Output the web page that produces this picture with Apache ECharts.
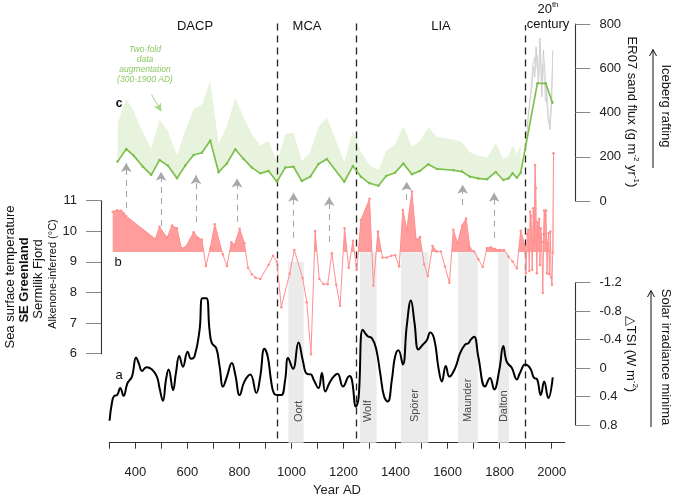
<!DOCTYPE html>
<html><head><meta charset="utf-8">
<script src="https://cdn.jsdelivr.net/npm/echarts@6/dist/echarts.min.js"></script>
<style>html,body{margin:0;padding:0;background:#fff}#c{width:675px;height:496px}</style>
</head><body><div id="c"></div>
<script>
// ---------- DATA ----------
// c: ER07 sand flux (g m-2 yr-1), smoothed record
const gYears = [332,365,394,429,461,493,525,560,592,624,656,688,720,752,784,816,848,880,912,944,976,1008,1040,1072,1104,1136,1203,1236,1267,1300,1334,1364,1398,1430,1463,1494,1526,1559,1623,1655,1686,1718,1751,1785,1814,1834,1850,1866,1881,1945,1977,2003];
const gVals  = [178,235,205,155,118,185,160,103,160,208,218,273,130,170,234,190,151,125,136,87,151,155,90,110,167,190,87,158,110,80,69,113,128,169,121,136,166,145,139,133,110,102,98,131,95,102,125,105,128,532,532,444];
// c: upper envelope of the two-fold data augmentation (300-1900 AD)
const augYears = [332,365,394,429,461,493,525,560,592,624,656,688,720,752,784,816,848,880,912,944,976,1008,1040,1072,1104,1136,1203,1236,1267,1300,1334,1364,1398,1430,1463,1494,1526,1559,1623,1655,1686,1718,1751,1785,1814,1834,1850,1866,1881];
const augUpper = [352,462,405,310,236,368,318,206,318,416,436,542,258,340,466,378,302,250,272,176,302,310,180,220,334,378,176,316,220,162,140,226,256,338,244,272,332,290,278,266,220,206,196,262,190,204,250,210,256];
// c: raw 20th century sand flux (grey)
const rawYears1 = [1902,1910,1917,1924,1930,1935,1940,1945,1949,1955,1958,1962,1968,1973,1978,1983,1987,1994,2000,2004];
const rawVals1  = [270,380,456,520,607,560,697,600,533,737,640,471,682,600,488,420,366,321,456,682];
const rawYears2 = [1905,1913,1920,1927,1933,1938,1944,1950,1956,1961,1966,1971,1976,1981,1986,1991,1997,2003];
const rawVals2  = [330,420,500,610,650,590,660,560,700,520,620,560,450,520,400,350,420,600];
// b: alkenone SST (deg C)
const sYears = [313,330,346,355,364,477,493,522,541,560,577,592,624,641,656,671,688,705,736,752,769,781,801,819,833,848,861,880,912,929,944,961,993,1011,1043,1059,1075,1091,1107,1123,1139,1155,1172,1187,1204,1220,1236,1251,1267,1300,1315,1332,1350,1367,1384,1398,1414,1428,1443,1463,1479,1494,1510,1524,1542,1559,1574,1590,1607,1622,1638,1655,1671,1686,1702,1718,1735,1751,1766,1782,1802,1817,1834,1850,1866,1881,1898,1901,1906,1910,1914,1917,1921,1925,1929,1933,1936,1939,1943,1946,1949,1952,1955,1958,1962,1966,1969,1971,1975,1978,1982,1985,1988,1991,1995,1998,2001,2004,2007];
const sVals  = [10.64,10.69,10.67,10.59,10.50,9.75,10.15,9.79,10.19,10.10,9.45,9.47,9.97,9.79,9.72,8.87,9.45,10.23,9.25,8.87,9.64,9.56,10.08,9.61,8.81,8.60,8.49,8.44,8.90,9.20,9.01,7.52,8.61,9.39,8.47,7.68,5.98,10.01,8.44,8.28,8.27,9.28,8.25,7.57,10.10,8.81,9.69,8.74,10.37,11.06,8.23,9.99,9.14,9.14,9.20,9.22,8.85,10.70,10.05,11.30,9.72,9.81,8.92,8.54,9.52,9.34,9.34,8.85,8.32,10.05,9.61,10.18,10.42,9.45,9.34,9.09,8.83,9.45,9.48,9.42,9.39,9.39,9.17,9.01,8.79,10.02,9.50,8.63,9.90,10.05,8.70,10.64,10.50,8.74,10.75,9.60,12.17,11.41,8.63,10.30,9.88,10.40,8.90,10.10,9.66,7.98,9.90,10.68,10.50,10.68,8.63,9.60,9.94,8.60,9.99,8.50,8.25,9.30,12.55];
const sBase = 9.32;
// a: solar forcing, delta TSI (W m-2)
const tYears = [301,310,319,330,342,355,370,387,403,413,426,442,464,483,493,506,518,528,545,556,569,583,601,614,628,647,658,673,685,694,711,724,737,752,771,784,801,819,842,865,880,896,909,921,932,945,961,976,987,1006,1027,1044,1059,1075,1085,1104,1117,1130,1146,1162,1177,1198,1223,1232,1248,1258,1274,1292,1309,1325,1341,1356,1370,1386,1398,1411,1428,1443,1459,1473,1488,1505,1520,1533,1549,1565,1578,1593,1607,1629,1648,1667,1680,1689,1702,1718,1744,1763,1779,1799,1814,1827,1847,1866,1878,1898,1917,1933,1943,1958,1971,1987,2004];
const tVals  = [0.74,0.49,0.39,0.38,0.28,0.39,0.21,0.12,-0.15,-0.07,0.04,-0.01,0.02,0.12,0.28,0.46,0.16,0.02,0.31,0.07,-0.17,-0.02,-0.23,-0.13,-0.17,-0.54,-0.98,-0.98,-0.54,-0.35,-0.28,-0.02,0.26,0.12,-0.07,0.09,0.38,0.19,0.09,0.35,0.12,-0.27,-0.16,0.16,0.35,0.38,0.38,0.16,-0.14,0.01,-0.36,-0.10,0.08,0.09,0.16,0.28,0.07,0.33,0.21,0.12,0.08,0.26,0.11,0.16,0.54,0.42,-0.54,-0.45,-0.42,-0.28,0.07,0.40,0.47,0.16,-0.16,-0.25,-0.05,-0.59,-0.95,-0.63,-0.26,-0.33,-0.39,-0.50,-0.40,0.00,0.19,-0.03,0.12,0.00,-0.21,-0.33,-0.35,-0.40,-0.44,-0.16,0.26,0.14,0.30,0.02,-0.31,-0.09,0.00,0.16,0.07,-0.05,0.00,0.14,0.15,0.38,0.19,0.42,0.13];
// periods / minima
const periodBounds = [945, 1250, 1900];
const minimaNames = ['Oort','Wolf','Spörer','Maunder','Dalton'];
const minimaStart = [988,1263,1421,1640,1794];
const minimaEnd   = [1047,1327,1526,1716,1836];
// linkage arrows: year, from/to (fraction of panel height)
const arrowYears = [365,499,633,791,1008,1145,1443,1658,1779];
const arrowTop   = [0.665,0.644,0.636,0.628,0.594,0.584,0.620,0.613,0.594];
const arrowBot   = [0.558,0.515,0.524,0.525,0.487,0.477,0.577,0.565,0.487];
// axis ticks
const xTicks = [300,400,500,600,700,800,900,1000,1100,1200,1300,1400,1500,1600,1700,1800,1900,2000];
const xLabels = [400,600,800,1000,1200,1400,1600,1800,2000];

// ---------- CHART ----------
const FONT = '"Liberation Sans", Arial, Helvetica, sans-serif';
const pair = (xs, ys) => xs.map((x, i) => [x, ys[i]]);
const L = 109.3, R = 110.3;
const X0 = 300, X1 = 2050;
const chart = echarts.init(document.getElementById('c'), null, {renderer: 'canvas', width: 675, height: 496});

const hiddenX = i => ({type: 'value', gridIndex: i, min: X0, max: X1, show: false});
const axLine = {show: true, lineStyle: {color: '#333', width: 1.1}};
const axTick = {show: true, length: 15, lineStyle: {color: '#888', width: 1}};
const axLab = {fontSize: 13, color: '#222', fontFamily: FONT, margin: 24};
const txt = (x, y, text, font, extra) => Object.assign({type: 'text', x: x, y: y, z: 100,
  style: {text: text, font: font, fill: '#111', align: 'center', verticalAlign: 'middle'}}, extra || {});
const gtxt = (x, y, text) => ({type: 'text', x: x, y: y, z: 100,
  style: {text: text, font: 'italic 8.5px ' + FONT, fill: '#8bc963', align: 'center', verticalAlign: 'middle'}});
const supRich = {s: {fontSize: 8, verticalAlign: 'top', fontFamily: FONT, fill: '#111'}};
const gridBase = {left: L, right: R, outerBoundsMode: 'none', containLabel: false};

const option = {
  animation: false,
  backgroundColor: '#fff',
  textStyle: {fontFamily: FONT},
  grid: [
    Object.assign({top: 24, height: 177}, gridBase),
    Object.assign({top: 200.7, height: 153}, gridBase),
    Object.assign({top: 282.7, height: 142.3}, gridBase),
    Object.assign({top: 22, height: 420.7}, gridBase)
  ],
  xAxis: [
    hiddenX(0), hiddenX(1), hiddenX(2),
    {type: 'value', gridIndex: 3, min: X0, max: X1,
      axisLine: {show: true, lineStyle: {color: '#333', width: 1.1}},
      axisTick: {show: true, length: 6, customValues: xTicks, lineStyle: {color: '#333'}},
      axisLabel: {customValues: xLabels, formatter: v => String(v), fontSize: 13, color: '#222', margin: 23, fontFamily: FONT},
      splitLine: {show: false},
      name: 'Year AD', nameLocation: 'middle', nameGap: 41,
      nameTextStyle: {fontSize: 13, color: '#222', fontFamily: FONT}
    }
  ],
  yAxis: [
    {type: 'value', gridIndex: 0, position: 'right', offset: 10.7, min: 0, max: 800, interval: 200,
      axisLine: axLine, axisTick: axTick, axisLabel: axLab, splitLine: {show: false}},
    {type: 'value', gridIndex: 1, position: 'left', offset: 8.3, min: 6, max: 11, interval: 1,
      axisLine: axLine, axisTick: axTick, axisLabel: axLab, splitLine: {show: false}},
    {type: 'value', gridIndex: 2, position: 'right', offset: 10.7, min: -1.2, max: 0.8, interval: 0.4, inverse: true,
      axisLine: axLine, axisTick: axTick,
      axisLabel: Object.assign({}, axLab, {formatter: v => String(Math.round(v * 10) / 10)}),
      splitLine: {show: false}},
    {type: 'value', gridIndex: 3, min: 0, max: 1, show: false}
  ],
  visualMap: [{
    type: 'piecewise', show: false, seriesIndex: 6, dimension: 1,
    pieces: [{gt: 0, lte: sBase, color: 'rgba(255,255,255,0)'}, {gt: sBase, lte: 30, color: '#ff9c9c'}],
    outOfRange: {color: 'rgba(255,255,255,0)'}
  }],
  series: [
    // 0: solar minima bands + labels
    {
      type: 'scatter', xAxisIndex: 3, yAxisIndex: 3, symbolSize: 0, z: 1, silent: true,
      data: minimaNames.map((n, i) => ({name: n, value: [(minimaStart[i] + minimaEnd[i]) / 2 + (i === 0 ? 12 : 0), 0.049]})),
      label: {show: true, position: 'inside', formatter: '{b}', rotate: 90, align: 'left', verticalAlign: 'middle',
        fontSize: 11, color: '#222', fontFamily: FONT},
      markArea: {silent: true, itemStyle: {color: '#ebebeb'},
        data: minimaNames.map((n, i) => [{coord: [minimaStart[i], 0]}, {coord: [minimaEnd[i], i === 0 ? 0.43 : 0.4526]}])}
    },
    // 1: period boundaries + linkage arrows
    {
      type: 'scatter', xAxisIndex: 3, yAxisIndex: 3, symbolSize: 0, z: 20, silent: true, data: [],
      markLine: {silent: true, symbol: 'none', label: {show: false},
        data: periodBounds.map(x => [{coord: [x, 0.01], lineStyle: {color: '#222', width: 1.3, type: [7, 5]}},
                                     {coord: [x, x === 1900 ? 0.993 : 0.998]}])
          .concat(arrowYears.map((x, i) => [
            {coord: [x, arrowBot[i]], symbol: 'none', lineStyle: {color: '#a8a8a8', width: 1.1, type: [6, 5]}},
            {coord: [x, arrowTop[i]], symbol: 'arrow', symbolSize: [8, 9]}]))
      }
    },
    // 2: augmentation envelope (light green)
    {type: 'line', xAxisIndex: 0, yAxisIndex: 0, data: pair(augYears, augUpper), z: 2,
      lineStyle: {width: 0, opacity: 0}, showSymbol: false, symbol: 'none',
      areaStyle: {color: '#e8f3dd', opacity: 1, origin: 'start'}},
    // 3: white mask below smoothed record
    {type: 'line', xAxisIndex: 0, yAxisIndex: 0, data: pair(gYears, gVals), z: 3,
      lineStyle: {width: 0, opacity: 0}, showSymbol: false, symbol: 'none',
      areaStyle: {color: '#ffffff', opacity: 1, origin: 'start'}},
    // 4,5: raw 20th century flux
    {type: 'line', xAxisIndex: 0, yAxisIndex: 0, data: pair(rawYears1, rawVals1), z: 4,
      lineStyle: {width: 0.8, color: '#c4c4c4'}, showSymbol: false, symbol: 'none',
      markLine: {silent: true, symbol: ['none', 'arrow'], symbolSize: [6, 8], label: {show: false},
        lineStyle: {color: '#a5d57f', width: 1, type: 'solid'},
        data: [[{coord: [462, 482]}, {coord: [500, 405]}]]}},
    {type: 'line', xAxisIndex: 0, yAxisIndex: 0, data: pair(rawYears2, rawVals2), z: 4,
      lineStyle: {width: 0.8, color: '#d2d2d2'}, showSymbol: false, symbol: 'none'},
    // 6: SST fill above baseline
    {type: 'line', xAxisIndex: 1, yAxisIndex: 1, data: pair(sYears, sVals), z: 5, clip: false,
      lineStyle: {width: 0, opacity: 0}, showSymbol: false, symbol: 'none',
      areaStyle: {origin: sBase, opacity: 1}},
    // 7: SST line
    {type: 'line', xAxisIndex: 1, yAxisIndex: 1, data: pair(sYears, sVals), z: 6, clip: false,
      color: '#ff8f8f', lineStyle: {width: 1, color: '#ff9090'}, symbol: 'circle', symbolSize: 2.5},
    // 8: TSI
    {type: 'line', xAxisIndex: 2, yAxisIndex: 2, data: pair(tYears, tVals), z: 7, clip: false,
      smooth: 0.45, lineStyle: {width: 2, color: '#000'}, showSymbol: false, symbol: 'none'},
    // 9: ER07 smoothed record
    {type: 'line', xAxisIndex: 0, yAxisIndex: 0, data: pair(gYears, gVals), z: 8,
      color: '#7dc04c', lineStyle: {width: 1.7, color: '#7dc04c'}, symbol: 'circle', symbolSize: 2.5, clip: false}
  ],
  graphic: [
    txt(195, 26, 'DACP', '13px ' + FONT),
    txt(307, 26, 'MCA', '13px ' + FONT),
    txt(441, 26, 'LIA', '13px ' + FONT),
    {type: 'text', x: 548, y: 9, z: 100, style: {text: '20{s|th}', font: '13px ' + FONT, fill: '#111', align: 'center', verticalAlign: 'middle', lineHeight: 16, rich: supRich}},
    txt(548, 24, 'century', '13px ' + FONT),
    txt(119, 104, 'c', 'bold 12px ' + FONT),
    txt(118, 262, 'b', '13px ' + FONT),
    txt(119, 375, 'a', '13px ' + FONT),
    gtxt(145, 50, 'Two-fold'),
    gtxt(145, 60, 'data'),
    gtxt(145, 70, 'augmentation'),
    gtxt(145, 80, '(300-1900 AD)'),
    txt(10, 277, 'Sea surface temperature', '13px ' + FONT, {rotation: Math.PI / 2}),
    txt(24, 280, 'SE Greenland', 'bold 13px ' + FONT, {rotation: Math.PI / 2}),
    txt(38.5, 279, 'Sermilik Fjord', '13px ' + FONT, {rotation: Math.PI / 2}),
    txt(52.5, 274, 'Alkenone-inferred (°C)', '11px ' + FONT, {rotation: Math.PI / 2}),
    {type: 'text', x: 632, y: 112, rotation: -Math.PI / 2, z: 100, style: {text: 'ER07 sand flux (g m{s|-2} yr{s|-1})', font: '13px ' + FONT, fill: '#111', align: 'center', verticalAlign: 'middle', lineHeight: 16, rich: supRich}},
    txt(666, 106, 'Iceberg rafting', '13px ' + FONT, {rotation: -Math.PI / 2}),
    {type: 'text', x: 631, y: 354, rotation: -Math.PI / 2, z: 100, style: {text: '\u25B3TSI (W m{s|-2})', font: '13px ' + FONT, fill: '#111', align: 'center', verticalAlign: 'middle', lineHeight: 16, rich: supRich}},
    txt(666, 357, 'Solar irradiance minima', '13px ' + FONT, {rotation: -Math.PI / 2}),
    {type: 'line', shape: {x1: 653, y1: 168, x2: 653, y2: 50}, style: {stroke: '#111', lineWidth: 1}},
    {type: 'polyline', shape: {points: [[649.5, 56], [653, 49.5], [656.5, 56]]}, style: {stroke: '#111', lineWidth: 1, fill: null}},
    {type: 'line', shape: {x1: 651, y1: 427, x2: 651, y2: 291}, style: {stroke: '#111', lineWidth: 1}},
    {type: 'polyline', shape: {points: [[647.5, 297], [651, 290.5], [654.5, 297]]}, style: {stroke: '#111', lineWidth: 1, fill: null}}
  ]
};
chart.setOption(option);
</script>
</body></html>
